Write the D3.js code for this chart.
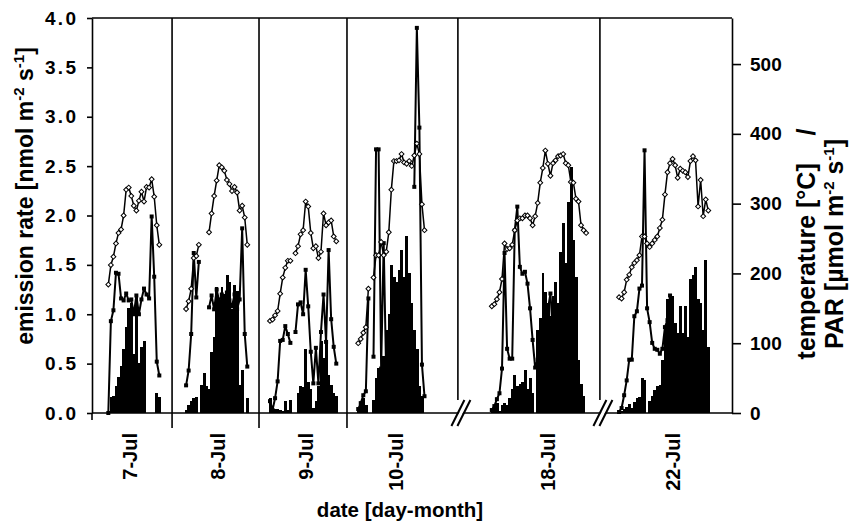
<!DOCTYPE html>
<html>
<head>
<meta charset="utf-8">
<script src="https://cdn.jsdelivr.net/npm/d3@7"></script>
<style>
  body { margin: 0; background: #fff; }
  svg { display: block; font-family: "Liberation Sans", Arial, sans-serif; font-weight: bold; }
  text { white-space: pre; }
</style>
</head>
<body>
<svg id="chart" width="852" height="531"></svg>
<script>
const days = ["7-Jul", "8-Jul", "9-Jul", "10-Jul", "18-Jul", "22-Jul"];

// x is counted in sample slots (one half-hour sample per slot)
const slotCount = 251;
const dayStart = [6.4, 36.9, 69.8, 104.4, 156.8, 206.7];
const dayLabelAt = [14.9, 49.5, 83.9, 119.4, 178.8, 227.9];
const panelEdges = [31.4, 65.5, 100];
const axisBreaks = [143.5, 199.2];

// emission rate [nmol m-2 s-1], left axis
const emission = [
  [0.0, 0.93, 1.04, 1.42, 1.41, 1.16, 1.14, 1.21, 1.14, 1.15, 1.0, 1.19, 1.0, 1.15, 1.26, 1.2, 1.16, 1.99, 1.38, 0.52, 0.38],
  [0.28, 0.43, 0.8, 1.62, 1.17, 1.53, null, null, null, 1.07, 1.19, 1.05, 1.25, 1.13, 1.2, 1.12, 1.22, 1.14, 1.08, 1.2, 1.05, 1.15, 1.87, 0.8, 0.47],
  [0.12, 0.03, 0.15, 0.32, 0.73, 0.74, 0.88, 0.8, 0.71, null, 0.82, 1.1, 1.12, 1.0, 1.45, 1.08, 0.62, 0.3, 0.66, 0.3, 0.82, 1.2, 0.72, 1.65, 0.95, 0.67, 0.5],
  [0.04, 0.1, 0.18, 0.22, 1.16, null, 0.57, 2.67, 2.67, 0.45, 1.72, 0.35, 0.25, null, null, null, null, null, null, null, null, null, 2.29, 3.9, 2.89, 0.49, 0.17],
  [0.03, 0.07, 0.14, 0.2, 0.45, 1.62, 0.65, 0.55, 0.55, 1.85, 2.09, 1.48, 1.41, 1.43, 1.31, 1.06, 0.74, 0.46, 0.54, 0.67, 0.82, 0.94, 1.05, 1.21, 0.79],
  [0.01, 0.05, 0.18, 0.33, 0.54, 0.54, 0.98, 1.03, 1.26, 1.29, 2.66, 1.06, 0.92, 0.71, 0.65, 0.64, 0.6, 0.65, 0.87, 0.94, 1.19],
];

// temperature, right axis units
const temperature = [
  [184, 212, 224, 243, 258, 263, 283, 320, 323, 311, 297, 290, 304, 317, 303, 324, 323, 335, 310, 269, 241],
  [149, 160, 178, 222, 225, 241, null, null, null, 259, 286, 311, 333, 355, 352, 347, 334, 328, 318, 324, 316, 290, 297, 280, 241],
  [132, 134, 140, 146, 171, 194, 208, 218, 218, null, 229, 239, 256, 262, 303, 296, 258, 236, 239, 222, 231, 286, 269, 273, 276, 253, 246],
  [100, 106, 115, 123, 178, null, 194, 226, 226, 245, 226, 231, 259, 320, 361, 361, 362, 371, 359, 357, 361, 354, 369, 386, 371, 299, 262],
  [153, 156, 163, 173, 192, 243, 235, 236, 241, 262, 276, 279, 279, 283, 283, 279, 269, 282, 301, 330, 351, 376, 357, 340, 358, 362, 368, 369, 371, 358, 355, 331, 330, 307, 303, 269, 262, 258],
  [166, 164, 173, 191, 198, 209, 215, 219, 226, 253, 253, 243, 238, 243, 248, 253, 265, 277, 313, 345, 358, 364, 355, 337, 350, 347, 345, 338, 361, 368, 362, 296, 334, 282, 306, 290],
];

// PAR, right axis units
const par = [
  [3, 23, 25, 38, 52, 67, 91, 123, 151, 158, 85, 168, 71, 95, 103, 0, 0, 0, 0, 28, 23],
  [4, 11, 17, 21, 23, 0, 40, 57, 38, 34, 88, 109, 181, 161, 181, 171, 198, 188, 149, 184, 175, 40, 62, 0, 21],
  [21, 8, 6, 6, 4, 3, 17, 4, 18, 0, 0, 28, 38, 37, 92, 45, 34, 7, 17, 38, 103, 79, 102, 54, 40, 28, 25],
  [7, 14, 21, 11, 0, 0, 18, 50, 64, 62, 81, 119, 142, 212, 195, 188, 205, 233, 195, 253, 200, 157, 119, 91, 38, 24, 0],
  [4, 8, 14, 3, 11, 14, 11, 21, 35, 54, 38, 42, 45, 62, 35, 50, 28, 0, 119, 136, 200, 174, 157, 139, 167, 188, 157, 231, 272, 215, 303, 352, 248, 195, 76, 42, 24, 0],
  [1, 3, 6, 8, 13, 7, 16, 21, 23, 50, 47, 0, 17, 25, 33, 38, 40, 76, 123, 164, 167, 167, 129, 115, 153, 115, 153, 109, 192, 198, 209, 164, 157, 119, 219, 95],
];

const leftTicks = [0, 0.5, 1, 1.5, 2, 2.5, 3, 3.5, 4];
const rightTicks = [0, 100, 200, 300, 400, 500];

const svg = d3.select("#chart");
const width = 852, height = 531;

const margin = { top: 18, right: 120, bottom: 118, left: 92 },
  innerWidth = width - margin.left - margin.right,
  innerHeight = height - margin.top - margin.bottom;

const xScale = d3.scaleLinear().domain([0, slotCount]).range([0, innerWidth]);
const yLeft = d3.scaleLinear().domain([0, 4]).range([innerHeight, 0]);
const yRight = d3.scaleLinear().domain([0, 566]).range([innerHeight, 0]);
const step = xScale(1) - xScale(0);

const samples = days.map((day, i) =>
  temperature[i].map((t, j) => ({
    day,
    slot: dayStart[i] + j,
    temp: t,
    em: emission[i][j] ?? null,
    par: par[i][j],
  }))
);

const g = svg.append("g").attr("transform", `translate(${margin.left},${margin.top})`);

// PAR bars
g.append("g")
  .selectAll("rect")
  .data(samples.flat().filter((d) => d.par > 0))
  .join("rect")
  .attr("x", (d) => xScale(d.slot) - step / 2)
  .attr("width", step + 0.4)
  .attr("y", (d) => yRight(d.par))
  .attr("height", (d) => innerHeight - yRight(d.par))
  .attr("fill", "#000")
  .attr("shape-rendering", "crispEdges");

const emLine = d3
  .line()
  .defined((d) => d.em != null)
  .x((d) => xScale(d.slot))
  .y((d) => yLeft(d.em));

const tempLine = d3
  .line()
  .defined((d) => d.temp != null)
  .x((d) => xScale(d.slot))
  .y((d) => yRight(d.temp));

const series = g.append("g").attr("fill", "none").attr("stroke", "#000").attr("stroke-linejoin", "round");

series.selectAll(".em").data(samples).join("path").attr("class", "em").attr("stroke-width", 2).attr("d", emLine);
series.selectAll(".temp").data(samples).join("path").attr("class", "temp").attr("stroke-width", 1.5).attr("d", tempLine);

g.append("g")
  .selectAll("path")
  .data(samples.flat().filter((d) => d.em != null))
  .join("path")
  .attr("d", d3.symbol(d3.symbolSquare, 16)())
  .attr("fill", "#000")
  .attr("transform", (d) => `translate(${xScale(d.slot)},${yLeft(d.em)})`);

g.append("g")
  .selectAll("path")
  .data(samples.flat().filter((d) => d.temp != null))
  .join("path")
  .attr("d", d3.symbol(d3.symbolSquare, 12)())
  .attr("fill", "#fff")
  .attr("stroke", "#000")
  .attr("stroke-width", 1)
  .attr("transform", (d) => `translate(${xScale(d.slot)},${yRight(d.temp)}) rotate(45)`);

// frame
const frame = g.append("g").attr("stroke", "#000").attr("stroke-width", 1.6).attr("fill", "none");
frame.append("line").attr("x1", 0).attr("x2", innerWidth).attr("y1", 0).attr("y2", 0);
frame.append("line").attr("x1", 0).attr("x2", innerWidth).attr("y1", innerHeight).attr("y2", innerHeight);
frame.append("line").attr("x1", 0).attr("x2", 0).attr("y1", innerHeight).attr("y2", innerHeight + 7);

frame
  .selectAll(".edge")
  .data(panelEdges)
  .join("line")
  .attr("class", "edge")
  .attr("x1", (d) => xScale(d))
  .attr("x2", (d) => xScale(d))
  .attr("y1", 0)
  .attr("y2", innerHeight + 15);

frame
  .selectAll(".brk")
  .data(axisBreaks)
  .join("line")
  .attr("class", "brk")
  .attr("x1", (d) => xScale(d))
  .attr("x2", (d) => xScale(d))
  .attr("y1", 0)
  .attr("y2", innerHeight - 13);

// axis break marks
const breakMarks = g.append("g").selectAll("g").data(axisBreaks).join("g")
  .attr("transform", (d) => `translate(${xScale(d)},${innerHeight})`);

breakMarks.append("line")
  .attr("x1", -3.5).attr("y1", 13).attr("x2", 9.5).attr("y2", -13)
  .attr("stroke", "#fff").attr("stroke-width", 3.5);

breakMarks.selectAll(".stroke").data([0, 6]).join("line")
  .attr("class", "stroke")
  .attr("x1", (o) => o - 6.5).attr("y1", 13)
  .attr("x2", (o) => o + 6.5).attr("y2", -13)
  .attr("stroke", "#000").attr("stroke-width", 2);

// y axes
const gyLeft = g.append("g")
  .call(d3.axisLeft(yLeft).tickValues(leftTicks).tickFormat(d3.format(".1f")).tickSize(5).tickSizeOuter(0).tickPadding(11));

const gyRight = g.append("g")
  .attr("transform", `translate(${innerWidth},0)`)
  .call(d3.axisRight(yRight).tickValues(rightTicks).tickSize(9).tickSizeOuter(0).tickPadding(9));

[gyLeft, gyRight].forEach((ax) => {
  ax.attr("font-family", null).attr("font-size", 19);
  ax.selectAll("path, line").attr("stroke-width", 1.6);
  ax.selectAll("text").attr("fill", "#000");
});
gyLeft.selectAll("text").attr("textLength", 31).attr("lengthAdjust", "spacing");

// day labels
g.append("g")
  .selectAll("text")
  .data(days)
  .join("text")
  .attr("transform", (d, i) => `translate(${xScale(dayLabelAt[i]) + 7},${innerHeight + 20}) rotate(-90)`)
  .attr("text-anchor", "end")
  .attr("font-size", 20)
  .text((d) => d);

// axis titles
svg.append("text")
  .attr("x", 400)
  .attr("y", 517)
  .attr("text-anchor", "middle")
  .attr("font-size", 20.5)
  .text("date [day-month]");

const leftTitle = svg.append("text")
  .attr("transform", "translate(33,196) rotate(-90)")
  .attr("text-anchor", "middle")
  .attr("font-size", 23);
leftTitle.append("tspan").text("emission rate [nmol m");
leftTitle.append("tspan").attr("dy", -9).attr("font-size", 15).text("-2");
leftTitle.append("tspan").attr("dy", 9).text(" s");
leftTitle.append("tspan").attr("dy", -9).attr("font-size", 15).text("-1");
leftTitle.append("tspan").attr("dy", 9).text("]");

svg.append("text")
  .attr("transform", "translate(815,244) rotate(-90)")
  .attr("text-anchor", "middle")
  .attr("font-size", 25)
  .text("temperature [°C]    /");

const rightTitle = svg.append("text")
  .attr("transform", "translate(843,244) rotate(-90)")
  .attr("text-anchor", "middle")
  .attr("font-size", 25);
rightTitle.append("tspan").text("PAR [µmol m");
rightTitle.append("tspan").attr("dy", -9).attr("font-size", 15).text("-2");
rightTitle.append("tspan").attr("dy", 9).text(" s");
rightTitle.append("tspan").attr("dy", -9).attr("font-size", 15).text("-1");
rightTitle.append("tspan").attr("dy", 9).text("]");
</script>
</body>
</html>
